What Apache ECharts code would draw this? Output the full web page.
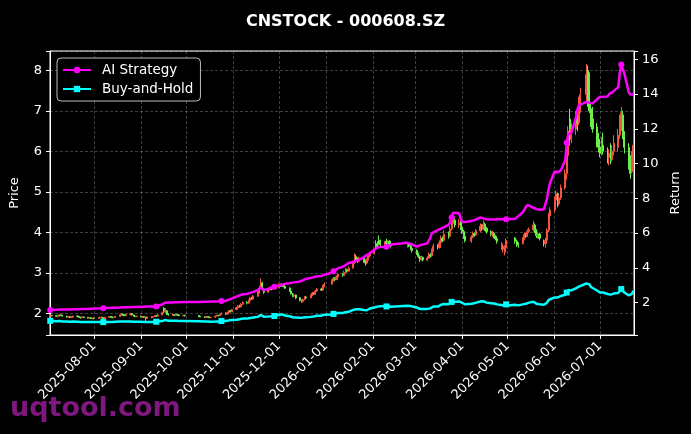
<!DOCTYPE html>
<html>
<head>
<meta charset="utf-8">
<script src="https://cdn.jsdelivr.net/npm/echarts@6/dist/echarts.min.js"></script>
<style>
  html, body { margin: 0; padding: 0; background: #000; }
  #chart { width: 691px; height: 434px; }
</style>
</head>
<body>
<div id="chart"></div>
<script>
// trading calendar: weekdays between first and last day, minus exchange holidays
const firstDay = '2025-07-03';
const lastDay = '2026-07-23';
const holidays = [
  '2025-10-01', '2025-10-02', '2025-10-03', '2025-10-06', '2025-10-07', '2025-10-08',
  '2026-01-01', '2026-01-02',
  '2026-02-16', '2026-02-17', '2026-02-18', '2026-02-19', '2026-02-20', '2026-02-23',
  '2026-04-06', '2026-05-01', '2026-05-04', '2026-05-05', '2026-06-19'
];

// [open, close, low, high] per trading day
const ohlc = [
  // 2025-07
  [1.93,1.95,1.91,1.97],[1.95,1.94,1.92,1.96],[1.94,1.92,1.91,1.95],[1.92,1.93,1.90,1.95],[1.93,1.96,1.92,1.98],
  [1.96,1.95,1.93,1.97],[1.95,1.93,1.92,1.96],[1.93,1.91,1.89,1.94],[1.91,1.92,1.89,1.93],[1.92,1.90,1.88,1.93],
  [1.90,1.91,1.88,1.92],[1.91,1.93,1.90,1.94],[1.93,1.92,1.90,1.95],[1.92,1.90,1.89,1.93],[1.90,1.89,1.87,1.91],
  [1.89,1.91,1.88,1.92],[1.91,1.90,1.88,1.92],[1.90,1.88,1.87,1.91],[1.88,1.89,1.86,1.90],[1.89,1.87,1.86,1.90],
  [1.87,1.88,1.85,1.89],
  // 2025-08
  [1.88,1.87,1.85,1.89],[1.87,1.89,1.86,1.90],[1.89,1.90,1.88,1.92],[1.90,1.89,1.87,1.91],[1.89,1.86,1.81,1.90],
  [1.86,1.90,1.85,1.91],[1.90,1.92,1.89,1.93],[1.92,1.91,1.89,1.93],[1.91,1.89,1.88,1.92],[1.89,1.90,1.88,1.91],
  [1.90,1.92,1.89,1.94],[1.92,1.95,1.91,1.97],[1.95,1.98,1.94,2.00],[1.98,1.96,1.94,2.00],[1.96,1.94,1.93,1.97],
  [1.94,1.97,1.93,1.99],[1.97,1.99,1.95,2.01],[1.99,1.96,1.94,2.00],[1.96,1.93,1.92,1.97],[1.93,1.92,1.90,1.94],
  [1.92,1.93,1.90,1.94],
  // 2025-09
  [1.93,1.91,1.90,1.94],[1.91,1.92,1.89,1.93],[1.92,1.90,1.89,1.93],[1.90,1.87,1.80,1.91],[1.87,1.91,1.86,1.92],
  [1.91,1.90,1.88,1.92],[1.90,1.92,1.89,1.93],[1.92,1.94,1.91,1.95],[1.94,1.93,1.91,1.95],[1.93,1.96,1.92,1.98],
  [1.96,2.02,1.95,2.04],[2.12,2.04,2.00,2.15],[2.04,2.08,2.01,2.13],[2.06,1.98,1.96,2.08],[1.98,1.96,1.94,2.00],
  [1.96,1.97,1.94,1.99],[1.97,1.95,1.93,1.98],[1.95,1.97,1.94,1.99],[1.97,1.96,1.94,1.98],[1.96,1.94,1.93,1.97],
  [1.94,1.95,1.93,1.96],[1.95,1.94,1.92,1.96],
  // 2025-10
  [1.94,1.93,1.91,1.96],[1.93,1.91,1.90,1.94],[1.91,1.90,1.88,1.92],[1.90,1.92,1.89,1.93],[1.92,1.91,1.89,1.93],
  [1.91,1.89,1.88,1.92],[1.89,1.90,1.88,1.91],[1.90,1.93,1.89,1.94],[1.93,1.95,1.92,1.96],[1.95,1.94,1.92,1.96],
  [1.94,1.97,1.93,1.99],[1.97,2.00,1.96,2.02],[2.00,1.98,1.96,2.02],[1.98,2.02,1.97,2.04],[2.02,2.06,2.01,2.08],
  [2.06,2.04,2.02,2.08],[2.04,2.09,2.03,2.11],
  // 2025-11
  [2.09,2.14,2.08,2.16],[2.14,2.18,2.12,2.20],[2.18,2.16,2.14,2.21],[2.16,2.22,2.15,2.25],[2.22,2.27,2.20,2.29],
  [2.27,2.25,2.22,2.30],[2.25,2.31,2.24,2.34],[2.31,2.38,2.30,2.40],[2.38,2.35,2.33,2.41],[2.35,2.42,2.34,2.45],
  [2.42,2.50,2.40,2.55],[2.50,2.62,2.48,2.68],[2.62,2.75,2.60,2.86],[2.75,2.60,2.56,2.78],[2.60,2.52,2.48,2.63],
  [2.52,2.58,2.50,2.61],[2.58,2.62,2.55,2.66],[2.62,2.60,2.57,2.65],[2.60,2.66,2.58,2.70],[2.66,2.64,2.61,2.72],
  // 2025-12
  [2.64,2.70,2.62,2.74],[2.70,2.68,2.65,2.73],[2.68,2.71,2.66,2.74],[2.71,2.66,2.64,2.72],[2.66,2.62,2.60,2.68],
  [2.62,2.55,2.53,2.64],[2.55,2.48,2.46,2.57],[2.48,2.42,2.40,2.50],[2.42,2.45,2.39,2.47],[2.45,2.38,2.35,2.46],
  [2.38,2.32,2.29,2.40],[2.32,2.29,2.26,2.34],[2.29,2.34,2.27,2.36],[2.34,2.40,2.32,2.42],[2.40,2.38,2.36,2.43],
  [2.38,2.44,2.37,2.47],[2.44,2.50,2.42,2.53],[2.50,2.47,2.45,2.52],[2.47,2.55,2.46,2.58],[2.55,2.60,2.53,2.62],
  [2.60,2.57,2.55,2.63],[2.57,2.66,2.56,2.70],[2.66,2.72,2.64,2.76],
  // 2026-01
  [2.72,2.80,2.70,2.84],[2.80,2.86,2.78,2.90],[2.86,2.83,2.80,2.89],[2.83,2.90,2.82,2.94],[2.90,2.96,2.88,2.99],
  [2.96,2.93,2.90,2.99],[2.93,3.01,2.92,3.05],[3.01,3.08,2.99,3.12],[3.08,3.04,3.01,3.10],[3.04,3.12,3.03,3.16],
  [3.12,3.25,3.10,3.30],[3.25,3.40,3.22,3.48],[3.40,3.33,3.28,3.45],[3.33,3.28,3.24,3.38],[3.28,3.36,3.26,3.40],
  [3.36,3.30,3.25,3.39],[3.30,3.24,3.18,3.33],[3.24,3.32,3.21,3.36],[3.32,3.42,3.30,3.46],[3.42,3.47,3.38,3.52],
  // 2026-02
  [3.47,3.58,3.45,3.62],[3.72,3.64,3.60,3.80],[3.70,3.66,3.62,3.78],[3.80,3.72,3.68,3.92],[3.75,3.70,3.66,3.82],
  [3.70,3.74,3.67,3.78],[3.78,3.71,3.68,3.84],[3.71,3.76,3.69,3.80],[3.78,3.70,3.66,3.81],[3.70,3.66,3.62,3.73],
  [3.68,3.72,3.62,3.76],[3.72,3.66,3.63,3.75],[3.66,3.60,3.56,3.68],[3.60,3.55,3.50,3.63],
  // 2026-03
  [3.55,3.48,3.44,3.58],[3.48,3.40,3.36,3.50],[3.40,3.33,3.27,3.43],[3.33,3.38,3.30,3.42],[3.38,3.32,3.28,3.40],
  [3.32,3.36,3.29,3.41],[3.36,3.45,3.34,3.50],[3.45,3.42,3.38,3.48],[3.42,3.55,3.40,3.60],[3.55,3.66,3.52,3.72],
  [3.66,3.62,3.58,3.70],[3.62,3.74,3.60,3.80],[3.74,3.85,3.72,3.92],[3.85,3.80,3.76,3.90],[3.80,3.95,3.78,4.05],
  [3.95,3.90,3.84,4.02],[3.90,4.08,3.88,4.15],[4.08,4.22,4.05,4.30],[4.22,4.30,4.15,4.40],[4.30,4.18,4.12,4.36],
  [4.18,4.24,4.10,4.32],[4.24,4.12,4.06,4.28],
  // 2026-04
  [4.12,4.02,3.96,4.17],[4.02,3.90,3.84,4.06],[3.90,3.80,3.75,3.94],[3.78,3.88,3.74,3.93],[3.88,3.97,3.85,4.02],
  [3.97,3.93,3.89,4.00],[3.93,4.04,3.91,4.08],[4.04,4.15,4.00,4.22],[4.15,4.08,4.03,4.20],[4.08,4.20,4.05,4.29],
  [4.20,4.10,4.04,4.24],[4.10,4.02,3.97,4.13],[4.02,3.95,3.90,4.05],[3.95,3.98,3.88,4.03],[3.98,3.90,3.85,4.01],
  [3.90,3.84,3.80,3.93],[3.84,3.78,3.72,3.87],[3.62,3.70,3.56,3.76],[3.58,3.66,3.50,3.72],[3.50,3.62,3.43,3.68],
  [3.62,3.80,3.58,3.85],
  // 2026-05
  [3.86,3.78,3.72,3.88],[3.78,3.70,3.64,3.82],[3.70,3.68,3.62,3.75],[3.72,3.84,3.70,3.88],[3.84,3.95,3.80,4.00],
  [3.95,3.90,3.86,3.98],[3.90,4.02,3.88,4.08],[4.02,4.06,3.98,4.12],[4.06,4.18,4.02,4.28],[4.18,4.05,3.98,4.22],
  [4.05,3.92,3.86,4.08],[3.92,3.96,3.84,4.02],[3.96,3.85,3.80,3.99],[3.78,3.72,3.65,3.82],[3.72,3.80,3.62,3.86],
  [3.80,4.05,3.76,4.10],[4.05,4.40,4.00,4.48],[4.40,4.55,4.32,4.62],
  // 2026-06
  [4.55,4.80,4.50,4.88],[4.80,4.95,4.72,5.03],[4.95,4.70,4.62,4.98],[4.70,4.85,4.66,4.92],[4.85,5.10,4.80,5.18],
  [5.10,5.45,5.05,5.55],[5.45,5.90,5.30,5.98],[5.90,6.50,5.85,6.62],[6.80,6.30,6.14,7.05],[6.30,6.55,6.20,6.70],
  [6.55,6.85,6.40,7.00],[6.85,6.70,6.50,7.10],[6.70,7.10,6.65,7.35],[7.10,7.40,6.95,7.57],[7.40,7.90,7.25,8.16],
  [8.00,7.30,7.10,8.12],[7.60,7.00,6.95,7.95],[7.05,6.75,6.60,7.20],[6.80,6.55,6.46,7.10],[6.60,6.25,6.10,6.70],
  [6.30,6.10,5.97,6.45],
  // 2026-07
  [6.10,5.95,5.85,6.30],[5.95,6.15,5.90,6.35],[6.15,6.00,5.92,6.46],[6.00,5.85,5.70,6.10],[5.85,5.95,5.65,6.05],
  [5.95,5.80,5.68,6.20],[5.80,6.00,5.75,6.15],[6.00,6.20,5.90,6.40],[6.10,6.40,6.00,6.55],[6.40,6.70,6.30,6.90],
  [6.60,6.95,6.50,7.10],[6.90,6.40,6.30,7.00],[6.40,6.10,5.95,6.50],[6.10,5.70,5.55,6.20],[5.75,5.45,5.32,5.90],
  [5.50,5.85,5.45,6.00],[5.85,6.15,5.70,6.25]
];

// strategy returns (right axis), one per trading day
const aiStrategy = [
  1.58,1.58,1.59,1.59,1.60,1.60,1.60,1.61,1.61,1.61,1.62,1.62,1.62,1.63,1.63,1.63,1.64,1.64,1.64,1.65,1.65,
  1.66,1.66,1.67,1.67,1.68,1.69,1.69,1.70,1.70,1.71,1.71,1.72,1.73,1.73,1.74,1.74,1.74,1.75,1.75,1.75,1.75,
  1.76,1.76,1.76,1.77,1.77,1.77,1.77,1.78,1.78,1.82,1.90,1.98,2.00,2.00,2.01,2.01,2.01,2.02,2.02,2.02,2.03,2.03,
  2.04,2.04,2.05,2.05,2.05,2.06,2.06,2.07,2.08,2.08,2.09,2.10,2.11,2.13,2.17,2.20,2.24,
  2.35,2.40,2.42,2.46,2.48,2.50,2.53,2.56,2.58,2.62,2.72,2.82,2.86,2.76,2.72,2.80,2.84,2.86,2.90,2.92,
  2.98,3.00,3.03,3.05,3.08,3.12,3.14,3.15,3.16,3.18,3.22,3.25,3.30,3.36,3.38,3.42,3.45,3.47,3.49,3.50,3.54,3.57,3.60,
  3.72,3.80,3.86,3.92,3.98,4.06,4.10,4.16,4.22,4.28,4.34,4.36,4.40,4.42,4.46,4.62,4.68,4.74,4.78,4.84,
  5.04,5.12,5.18,5.20,5.20,5.20,5.21,5.22,5.28,5.35,5.44,5.44,5.38,5.30,
  5.22,5.28,5.30,5.32,5.34,5.42,5.46,5.75,6.00,6.05,6.18,6.22,6.26,6.30,6.34,6.48,6.60,6.90,7.17,7.20,7.15,6.80,
  6.65,6.62,6.64,6.70,6.72,6.74,6.76,6.90,6.95,6.85,6.80,6.80,6.78,6.78,6.78,6.79,6.80,6.80,6.80,6.80,6.80,
  6.82,6.88,6.98,7.20,7.35,7.50,7.62,7.60,7.46,7.42,7.38,7.36,7.35,7.38,7.70,8.00,8.50,8.90,
  9.55,9.60,9.50,9.48,9.60,10.20,11.20,11.70,11.65,11.75,12.60,13.10,13.35,13.45,13.55,13.56,13.50,13.45,13.45,13.70,13.80,
  13.85,13.85,13.84,13.86,14.00,14.08,14.10,14.10,14.40,15.20,15.70,15.75,15.20,14.10,13.98,13.98,13.98
];

const buyHold = [
  0.95,0.94,0.93,0.93,0.94,0.93,0.92,0.91,0.91,0.90,0.90,0.91,0.90,0.89,0.89,0.90,0.89,0.89,0.88,0.88,0.88,
  0.88,0.88,0.89,0.88,0.88,0.89,0.89,0.90,0.89,0.89,0.90,0.91,0.92,0.91,0.90,0.91,0.92,0.91,0.90,0.89,0.90,
  0.90,0.89,0.89,0.88,0.89,0.89,0.89,0.90,0.90,0.91,0.94,0.99,1.01,0.97,0.95,0.95,0.94,0.95,0.95,0.94,0.94,0.94,
  0.93,0.92,0.91,0.91,0.91,0.90,0.90,0.91,0.92,0.92,0.93,0.94,0.94,0.96,0.98,0.98,1.00,
  1.02,1.04,1.04,1.06,1.08,1.08,1.10,1.12,1.12,1.14,1.18,1.24,1.29,1.23,1.19,1.20,1.22,1.21,1.24,1.23,
  1.30,1.30,1.32,1.28,1.26,1.22,1.19,1.16,1.17,1.15,1.13,1.12,1.14,1.16,1.16,1.18,1.20,1.20,1.22,1.24,1.25,1.28,1.30,
  1.32,1.35,1.36,1.38,1.40,1.40,1.42,1.45,1.44,1.47,1.58,1.66,1.62,1.58,1.62,1.58,1.53,1.56,1.62,1.66,
  1.72,1.76,1.77,1.80,1.79,1.80,1.78,1.80,1.78,1.76,1.82,1.86,1.80,1.74,
  1.72,1.68,1.64,1.66,1.63,1.64,1.68,1.67,1.72,1.78,1.77,1.82,1.88,1.86,1.92,1.90,1.98,2.04,2.10,2.05,2.07,2.02,
  1.98,1.94,1.90,1.94,1.98,1.97,2.02,2.06,2.03,2.08,2.04,2.00,1.97,1.98,1.95,1.93,1.90,1.86,1.84,1.82,1.90,
  1.88,1.85,1.84,1.90,1.95,1.93,1.98,2.00,2.05,1.99,1.94,1.96,1.91,1.88,1.90,2.00,2.15,2.25,
  2.30,2.36,2.30,2.33,2.38,2.45,2.58,2.72,2.62,2.70,2.82,2.78,2.92,3.02,3.10,3.14,3.05,2.90,2.82,2.70,2.62,
  2.58,2.64,2.58,2.50,2.52,2.46,2.50,2.52,2.55,2.66,2.78,2.70,2.58,2.42,2.34,2.50,2.68
];

const seriesNames = ['AI Strategy', 'Buy-and-Hold'];
const markEvery = 25;

function pad(n) { return (n < 10 ? '0' : '') + n; }
function fmtDate(d) { return d.getFullYear() + '-' + pad(d.getMonth() + 1) + '-' + pad(d.getDate()); }

function tradingDays(first, last, skip) {
  const out = [];
  const d = new Date(first + 'T12:00:00');
  const end = new Date(last + 'T12:00:00');
  while (d <= end) {
    const s = fmtDate(d);
    const wd = d.getDay();
    if (wd !== 0 && wd !== 6 && skip.indexOf(s) < 0) out.push(s);
    d.setDate(d.getDate() + 1);
  }
  return out;
}

const dates = tradingDays(firstDay, lastDay, holidays);
const candleData = dates.map((d, i) => [d].concat(ohlc[i]));
const aiData = dates.map((d, i) => [d, aiStrategy[i]]);
const bhData = dates.map((d, i) => [d, buyHold[i]]);

const FONT = 'DejaVu Sans';
const gridLine = { show: true, lineStyle: { color: 'rgba(255,255,255,0.3)', width: 0.8, type: [3, 2] } };
const whiteAxis = { show: true, lineStyle: { color: '#fff', width: 1 } };
const whiteTick = { show: true, length: 4, lineStyle: { color: '#fff', width: 1 } };

const chart = echarts.init(document.getElementById('chart'));
const option = {
  backgroundColor: '#000',
  animation: false,
  title: {
    text: 'CNSTOCK - 000608.SZ',
    left: 'center',
    top: 9,
    textStyle: { color: '#fff', fontSize: 16, fontWeight: 'bold', fontFamily: FONT }
  },
  legend: {
    data: seriesNames,
    orient: 'vertical',
    left: 57,
    top: 58,
    padding: [5, 7, 5, 5],
    itemWidth: 28,
    itemHeight: 8,
    itemGap: 5,
    backgroundColor: '#000',
    borderColor: '#bbb',
    borderWidth: 1,
    borderRadius: 4,
    textStyle: { color: '#fff', fontSize: 13.5, fontFamily: FONT, padding: [0, 0, 0, 6] }
  },
  grid: {
    left: 49, right: 57, top: 51, bottom: 99,
    show: true, borderColor: '#fff', borderWidth: 1
  },
  xAxis: {
    type: 'time',
    min: new Date(2025, 6, 2, 20).getTime(),
    max: new Date(2026, 6, 23, 10).getTime(),
    splitNumber: 12,
    minInterval: 28 * 86400000,
    maxInterval: 31 * 86400000,
    axisLine: whiteAxis,
    axisTick: whiteTick,
    splitLine: gridLine,
    axisLabel: {
      color: '#fff', fontSize: 13, fontFamily: FONT, rotate: 45, margin: 9,
      formatter: function (v) {
        const d = new Date(v);
        return d.getDate() === 1 ? fmtDate(d) : '';
      }
    }
  },
  yAxis: [
    {
      type: 'value',
      position: 'left',
      min: 1.463, max: 8.478, splitNumber: 7,
      name: 'Price', nameLocation: 'middle', nameGap: 29,
      nameTextStyle: { color: '#fff', fontSize: 13, fontFamily: FONT },
      axisLine: whiteAxis,
      axisTick: whiteTick,
      splitLine: gridLine,
      axisLabel: {
        color: '#fff', fontSize: 13, fontFamily: FONT, margin: 8,
        formatter: v => (Math.abs(v - Math.round(v)) < 1e-6 ? String(Math.round(v)) : '')
      }
    },
    {
      type: 'value',
      position: 'right',
      min: 0.137, max: 16.48, splitNumber: 8,
      name: 'Return', nameLocation: 'middle', nameGap: 31,
      nameTextStyle: { color: '#fff', fontSize: 13, fontFamily: FONT },
      axisLine: whiteAxis,
      axisTick: whiteTick,
      splitLine: { show: false },
      axisLabel: {
        color: '#fff', fontSize: 13, fontFamily: FONT, margin: 8,
        formatter: v => (Math.abs(v / 2 - Math.round(v / 2)) < 1e-6 ? String(Math.round(v)) : '')
      }
    }
  ],
  series: [
    {
      name: 'Price',
      type: 'candlestick',
      data: candleData,
      encode: { x: 0, y: [1, 2, 3, 4] },
      barWidth: 1.6,
      itemStyle: {
        color: '#f4553f', color0: '#6cf04a',
        borderColor: '#f4553f', borderColor0: '#6cf04a',
        borderWidth: 1
      },
      z: 2
    },
    {
      name: seriesNames[0],
      type: 'line',
      yAxisIndex: 1,
      data: aiData,
      symbol: 'circle',
      showAllSymbol: true,
      symbolSize: (v, p) => (p.dataIndex % markEvery === 0 ? 6 : 0),
      lineStyle: { color: '#ff00ff', width: 2.5 },
      itemStyle: { color: '#ff00ff' },
      z: 4
    },
    {
      name: seriesNames[1],
      type: 'line',
      yAxisIndex: 1,
      data: bhData,
      symbol: 'rect',
      showAllSymbol: true,
      symbolSize: (v, p) => (p.dataIndex % markEvery === 0 ? 6 : 0),
      lineStyle: { color: '#00ffff', width: 2.5 },
      itemStyle: { color: '#00ffff' },
      z: 3
    }
  ],
  graphic: [
    {
      type: 'text',
      left: 10,
      top: 395,
      z: 100,
      style: {
        text: 'uqtool.com',
        fill: 'rgba(140,26,140,0.9)',
        font: 'bold 27px "DejaVu Sans"'
      }
    }
  ]
};
chart.setOption(option);
</script>
</body>
</html>
